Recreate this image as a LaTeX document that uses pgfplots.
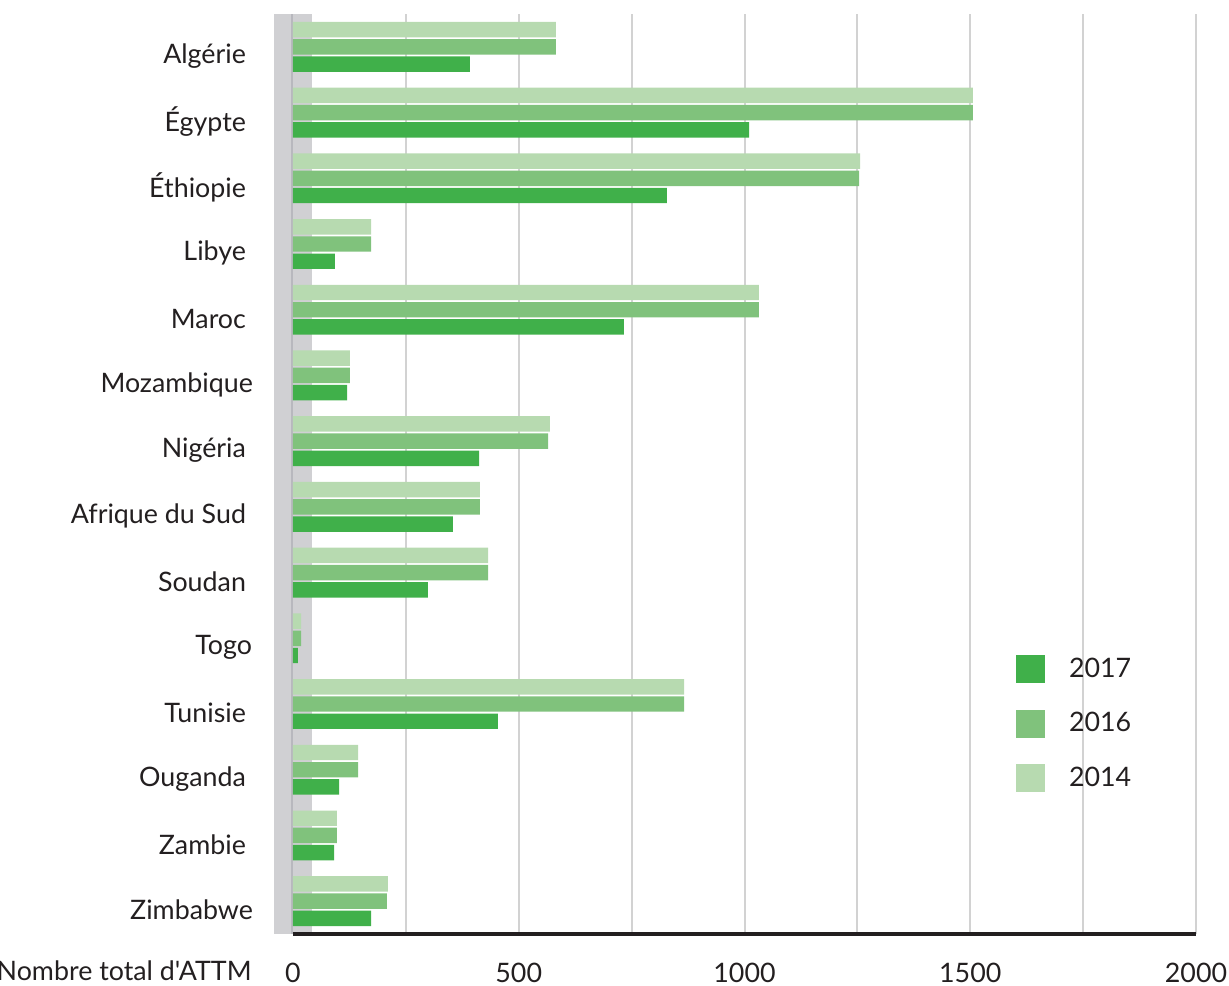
\documentclass[border=0pt]{standalone}
\usepackage{fontspec}
\setmainfont{Lato}
\newfontfamily\plainlato{Lato}
\usepackage{pgfplots}
\usepackage{pgfplotstable}
\pgfplotsset{compat=1.18}
\definecolor{c17}{RGB}{64,176,74}
\definecolor{c16}{RGB}{128,194,124}
\definecolor{c14}{RGB}{183,218,176}
\definecolor{band}{RGB}{208,208,211}
\definecolor{bandline}{RGB}{184,184,190}
\definecolor{gridc}{RGB}{210,210,210}
\definecolor{txt}{RGB}{35,31,32}
\pgfplotstableread{
idx v14 v16 v17
0 582 582 392
1 1506 1506 1010
2 1256 1254 828
3 173 173 93
4 1032 1032 733
5 126 126 120
6 569 565 412
7 414 414 354
8 432 432 299
9 18 18 11
10 866 866 454
11 144 144 102
12 97 97 91
13 210 208 173
}\data
\begin{document}
\begin{tikzpicture}
\path[use as bounding box] (-146.5pt,-25.5pt) rectangle (468pt,467pt);
\begin{axis}[
  at={(0,0)}, anchor=south west,
  scale only axis, width=451.5pt, height=460pt,
  xmin=0, xmax=2000, ymin=-0.5, ymax=13.5, y dir=reverse,
  xbar, bar width=0.235, bar shift=0pt,
  axis line style={draw=none},
  xtick={0,500,1000,1500,2000}, xticklabels={0,500,1000,1500,2000},
  minor xtick={250,750,1250,1750},
  xmajorgrids, xminorgrids,
  grid style={gridc, line width=1pt},
  major grid style={gridc, line width=1pt},
  minor grid style={gridc, line width=1pt},
  major tick length=0pt, minor tick length=0pt,
  ytick={0,...,13},
  yticklabels={Algérie,Égypte,Éthiopie,Libye,Maroc,Mozambique\kern-3.5pt,Nigéria,Afrique du Sud,Soudan,Togo\kern-3pt,Tunisie,Ouganda,Zambie,Zimbabwe\kern-3.5pt},
  font=\fontsize{13.4}{16}\selectfont,
  every tick label/.append style={text=txt, font=\fontsize{13.4}{16}\selectfont},
  yticklabel style={xshift=-20pt, yshift=-4.5pt},
  xticklabel style={yshift=-10.8pt},
  clip=false,
  reverse legend,
  legend style={at={(0.8007,0.3043)}, anchor=north west, draw=none, fill=none,
    inner sep=0pt, outer sep=0pt, row sep=12pt, column sep=10pt,
    nodes={inner sep=2pt, text=txt}, font=\fontsize{13.4}{16}\selectfont},
  legend cell align=left,
]
\fill[band] (axis cs:-42,-0.5) rectangle (axis cs:42,13.5);
\draw[bandline, line width=0.6pt] (axis cs:-2,-0.5) -- (axis cs:-2,13.5);
\addplot[draw=none, fill=c14, legend image code/.code={\fill[c14] (0pt,-7pt) rectangle (14.5pt,7pt);}]
  table[x=v14, y expr=\thisrow{idx}-0.262] {\data};
\addlegendentry{2014}
\addplot[draw=none, fill=c16, legend image code/.code={\fill[c16] (0pt,-7pt) rectangle (14.5pt,7pt);}]
  table[x=v16, y expr=\thisrow{idx}] {\data};
\addlegendentry{2016}
\addplot[draw=none, fill=c17, legend image code/.code={\fill[c17] (0pt,-7pt) rectangle (14.5pt,7pt);}]
  table[x=v17, y expr=\thisrow{idx}+0.262] {\data};
\addlegendentry{2017}
\draw[txt, line width=2pt] (axis cs:0,13.5) -- (axis cs:2000,13.5);
\node[anchor=east, inner sep=0pt, text=txt] at ([xshift=-20.5pt,yshift=-18.5pt]axis description cs:0,0) {\plainlato Nombre total d'ATTM};
\end{axis}
\end{tikzpicture}
\end{document}
